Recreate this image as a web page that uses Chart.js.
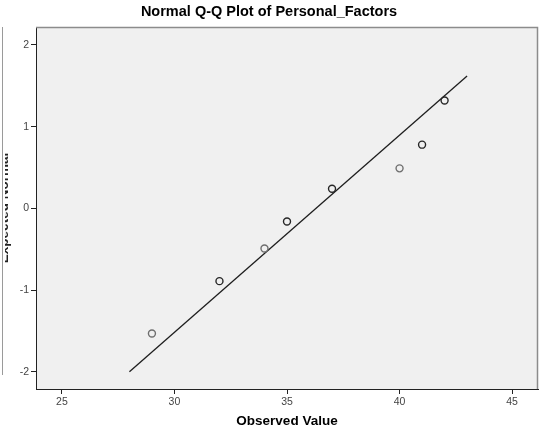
<!DOCTYPE html>
<html>
<head>
<meta charset="utf-8">
<script src="https://cdn.jsdelivr.net/npm/chart.js@4"></script>
<style>
    html, body { margin: 0; padding: 0; background: #ffffff; }
    #wrap { width: 544px; height: 437px; position: relative; }
</style>
</head>
<body>
<div id="wrap"><canvas id="qq"></canvas></div>
<script>
// observed values and their expected normal scores
const observed = [29, 32, 34, 35, 37, 40, 41, 42];
const expected = [-1.53, -0.89, -0.49, -0.16, 0.24, 0.49, 0.78, 1.32];
// how many cases share each observed value (overlapping markers draw darker)
const caseCounts = [1, 2, 1, 2, 2, 1, 2, 2];

// reference line end points
const lineX = [28, 43];
const lineY = [-2.0, 1.62];

const xTicks = [25, 30, 35, 40, 45];
const yTicks = [-2, -1, 0, 1, 2];

const chartTitle = "Normal Q-Q Plot of Personal_Factors";
const xTitle = "Observed Value";
const yTitle = "Expected Normal";

const fontFamily = "'Liberation Sans', Arial, sans-serif";

const pointData = observed.map((v, i) => ({ x: v, y: expected[i] }));
const lineData = lineX.map((v, i) => ({ x: v, y: lineY[i] }));
const pointColors = caseCounts.map(n => n > 1 ? '#262626' : '#6e6e6e');

// plot background, grey top/right frame, cropped side frame and y title
const framePlugin = {
    id: 'frame',
    beforeDraw(chart) {
        const { ctx, chartArea: a } = chart;
        ctx.save();
        ctx.fillStyle = '#f0f0f0';
        ctx.fillRect(a.left, a.top, a.right - a.left, a.bottom - a.top);
        ctx.restore();
    },
    afterDraw(chart) {
        const { ctx, chartArea: a } = chart;
        ctx.save();
        ctx.strokeStyle = '#8c8c8c';
        ctx.lineWidth = 1.5;
        ctx.beginPath();
        ctx.moveTo(a.left, a.top + 0.5);
        ctx.lineTo(a.right - 0.5, a.top + 0.5);
        ctx.lineTo(a.right - 0.5, a.bottom);
        ctx.stroke();

        ctx.strokeStyle = '#9a9a9a';
        ctx.lineWidth = 1;
        ctx.beginPath();
        ctx.moveTo(2.5, a.top);
        ctx.lineTo(2.5, 375);
        ctx.stroke();

        // y axis title, mostly cut off at the left edge as in the source
        ctx.beginPath();
        ctx.rect(5, 0, 7, chart.height);
        ctx.clip();
        ctx.translate(8, 208);
        ctx.rotate(-Math.PI / 2);
        ctx.fillStyle = '#222';
        ctx.font = 'bold 13.5px ' + fontFamily;
        ctx.textAlign = 'center';
        ctx.textBaseline = 'alphabetic';
        ctx.fillText(yTitle, 0, 0);
        ctx.restore();
    }
};

new Chart(document.getElementById('qq'), {
    type: 'scatter',
    data: {
        datasets: [
            {
                label: 'Line',
                data: lineData,
                showLine: true,
                borderColor: '#1e1e1e',
                borderWidth: 1.3,
                pointRadius: 0,
                order: 2
            },
            {
                label: 'Observed',
                data: pointData,
                pointRadius: 3.5,
                pointBorderWidth: 1.4,
                pointBackgroundColor: 'transparent',
                pointBorderColor: pointColors,
                order: 1
            }
        ]
    },
    options: {
        responsive: true,
        maintainAspectRatio: false,
        animation: false,
        layout: {
            padding: { left: 0, right: 6, top: 0, bottom: 0 }
        },
        plugins: {
            legend: { display: false },
            tooltip: { enabled: false },
            title: {
                display: true,
                text: chartTitle,
                color: '#000',
                font: { family: fontFamily, size: 14.5, weight: 'bold' },
                padding: { top: 3, bottom: 6.6 }
            }
        },
        scales: {
            x: {
                type: 'linear',
                min: 23.85,
                max: 46.15,
                afterFit(scale) { scale.height = 48; },
                afterBuildTicks(scale) { scale.ticks = xTicks.map(v => ({ value: v })); },
                border: { color: '#222', width: 1 },
                grid: {
                    drawOnChartArea: false,
                    drawTicks: true,
                    tickLength: 5,
                    color: '#222'
                },
                ticks: {
                    color: '#444',
                    padding: 2,
                    maxRotation: 0,
                    font: { family: fontFamily, size: 10.5 }
                },
                title: {
                    display: true,
                    text: xTitle,
                    color: '#000',
                    font: { family: fontFamily, size: 13.5, weight: 'bold' },
                    padding: { top: 0, bottom: 7.9 }
                }
            },
            y: {
                type: 'linear',
                min: -2.21,
                max: 2.22,
                afterFit(scale) { scale.width = 36; },
                afterBuildTicks(scale) { scale.ticks = yTicks.map(v => ({ value: v })); },
                border: { color: '#222', width: 1 },
                grid: {
                    drawOnChartArea: false,
                    drawTicks: true,
                    tickLength: 5,
                    color: '#222'
                },
                ticks: {
                    color: '#444',
                    padding: 2,
                    font: { family: fontFamily, size: 10.5 }
                }
            }
        }
    },
    plugins: [framePlugin]
});
</script>
</body>
</html>
